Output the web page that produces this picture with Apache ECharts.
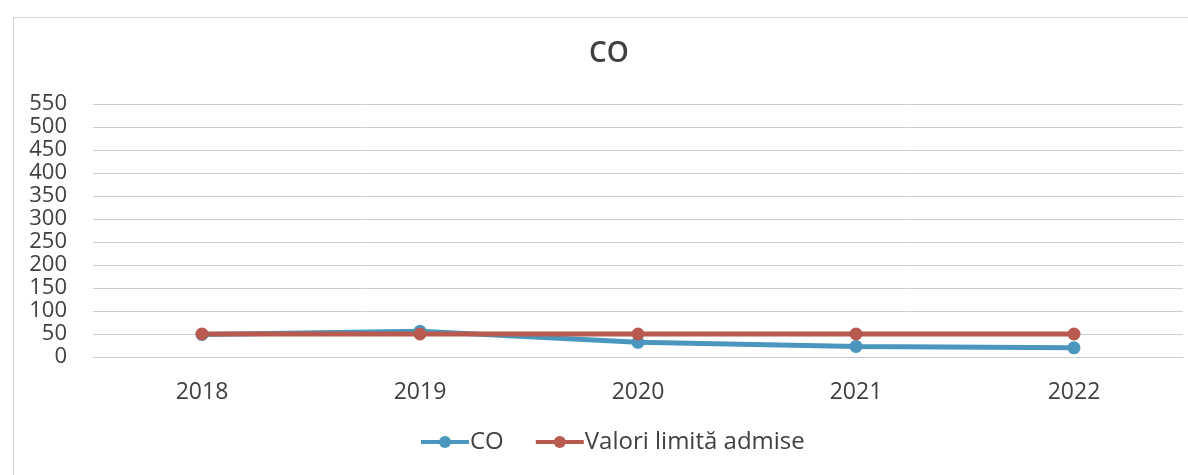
<!DOCTYPE html>
<html>
<head>
<meta charset="utf-8">
<script src="https://cdn.jsdelivr.net/npm/echarts@6/dist/echarts.min.js"></script>
<style>html,body{margin:0;padding:0;background:#fff}#c{width:1188px;height:475px}</style>
</head>
<body>
<div id="c"></div>
<script>
var categories = ['2018', '2019', '2020', '2021', '2022'];
var coValues = [49, 56, 32, 23, 20];
var limitValues = [50, 50, 50, 50, 50];
var yTicks = { min: 0, max: 550, interval: 50 };

var chart = echarts.init(document.getElementById('c'));
var font = "'Open Sans', 'Noto Sans', sans-serif";
var grid = '#cdcdda';
chart.setOption({
  animation: false,
  backgroundColor: '#fff',
  graphic: [{
    type: 'rect', left: 11, top: 15,
    shape: { width: 1190, height: 470 },
    style: { fill: 'none', stroke: '#d4d4d4', lineWidth: 1 }
  }],
  title: {
    text: 'CO', left: 584, top: 35,
    textStyle: { fontFamily: font, fontSize: 28, fontWeight: 600, color: '#404040' }
  },
  legend: {
    top: 425, left: 414, itemGap: 30, itemWidth: 48, itemHeight: 15,
    lineStyle: { width: 4 },
    textStyle: { fontFamily: font, fontSize: 24, color: '#404040', padding: [0, 0, 0, -4] },
    data: ['CO', 'Valori limită admise']
  },
  grid: { left: 93, right: 5, top: 104, bottom: 118 },
  xAxis: {
    type: 'category', data: categories, boundaryGap: true,
    axisLine: { lineStyle: { color: grid, width: 1 } },
    axisTick: { show: false },
    axisLabel: { fontFamily: font, fontSize: 23, color: '#404040', margin: 24 }
  },
  yAxis: {
    type: 'value', min: yTicks.min, max: yTicks.max, interval: yTicks.interval,
    axisLine: { show: false }, axisTick: { show: false },
    splitLine: { lineStyle: { color: grid, width: 1 } },
    axisLabel: { fontFamily: font, fontSize: 22, color: '#404040', margin: 26, lineHeight: 22 }
  },
  series: [
    { name: 'CO', type: 'line', data: coValues, symbol: 'circle', symbolSize: 13,
      lineStyle: { width: 5, color: '#4b96be' }, itemStyle: { color: '#4b96be' } },
    { name: 'Valori limită admise', type: 'line', data: limitValues, symbol: 'circle', symbolSize: 13,
      lineStyle: { width: 5, color: '#b85a4f' }, itemStyle: { color: '#b85a4f' } }
  ]
});
</script>
</body>
</html>
